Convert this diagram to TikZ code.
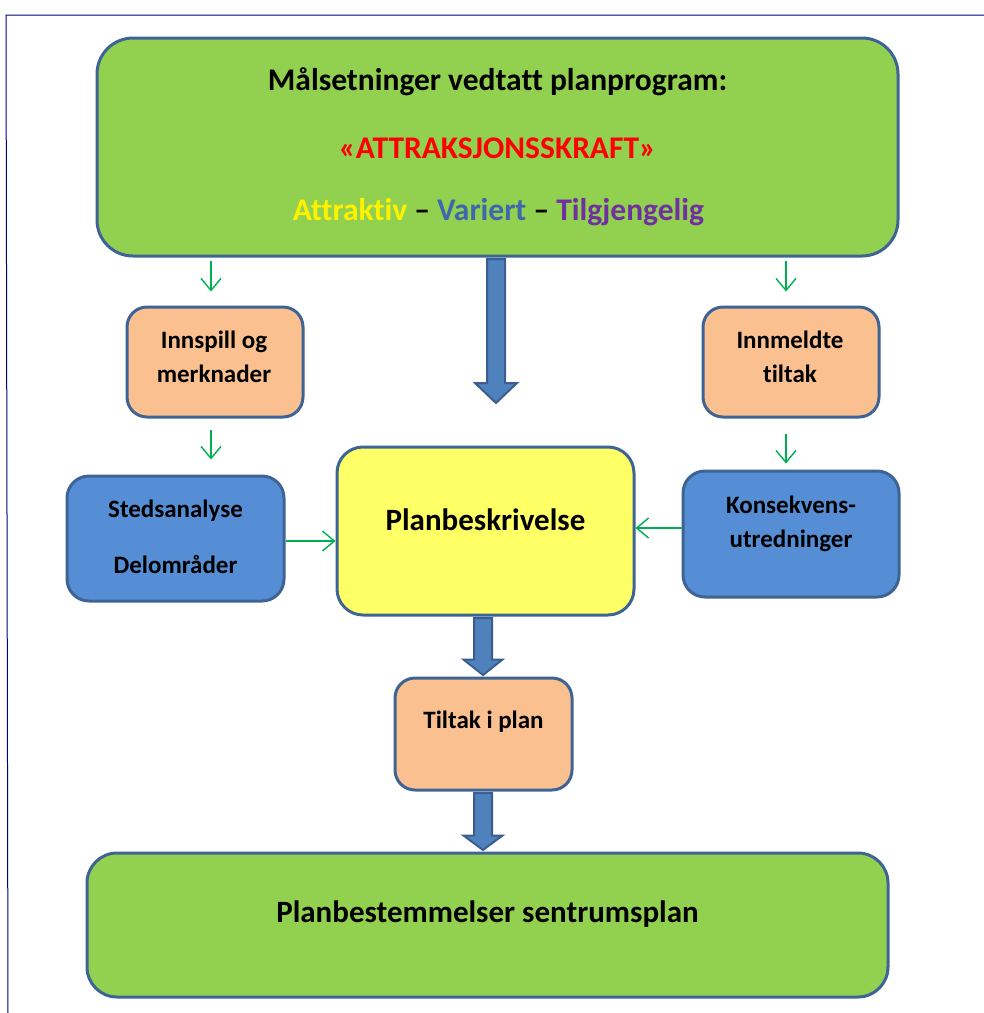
\documentclass[tikz,border=0pt]{standalone}
\usepackage{fontspec}
\setmainfont{Carlito}[RawFeature={-liga;-clig;-calt;-dlig}]
\usetikzlibrary{arrows.meta,calc}
\definecolor{edgeblue}{HTML}{3E6496}
\definecolor{lgreen}{HTML}{92D050}
\definecolor{peach}{HTML}{FAC090}
\definecolor{mblue}{HTML}{558ED5}
\definecolor{lyellow}{HTML}{FFFF66}
\definecolor{agreen}{HTML}{00B050}
\definecolor{arrfill}{HTML}{4F81BD}
\definecolor{arredge}{HTML}{3A5F8E}
\definecolor{frameblue}{HTML}{000080}
\definecolor{variert}{HTML}{3F67AD}
\definecolor{tilg}{HTML}{7030A0}
\tikzset{
  box/.style={draw=edgeblue, line width=3pt, inner sep=0pt},
  txt/.style={font=\bfseries, text=black, align=center, inner sep=0pt},
  big/.style={font=\bfseries\fontsize{31.5}{36}\selectfont},
  small/.style={font=\bfseries\fontsize{25}{34}\selectfont},
  garrow/.style={draw=agreen, line width=1.4pt, -{Straight Barb[length=12pt,width=20pt,line width=1.4pt]}},
  barrow/.style={fill=arrfill, draw=arredge, line width=2pt, line join=miter},
}
\begin{document}
\begin{tikzpicture}[x=1pt,y=-1pt]
\useasboundingbox (0,0) rectangle (984,1013);
% frame
\draw[frameblue, line width=1pt] (984,15) -- (6,15) -- (8,1013);
% boxes
\node[box, fill=lgreen, rounded corners=36pt, minimum width=801pt, minimum height=218pt] (top) at (497.5,147) {};
\node[txt, big] (t1) at (497.5,82) {Målsetninger vedtatt planprogram:};
\node[txt, big, text=red] (t2) at (497.5,148) {«ATTRAKSJONSSKRAFT»};
\node[txt, big] (t3) at (498.5,212) {\textcolor{yellow}{Attraktiv} – \textcolor{variert}{Variert} – \textcolor{tilg}{Tilgjengelig}};

\node[box, fill=peach, rounded corners=20pt, minimum width=176pt, minimum height=110pt] (inn) at (215,362) {};
\node[txt, small] (inn-t) at (214,357) {Innspill og\\merknader};

\node[box, fill=peach, rounded corners=20pt, minimum width=176pt, minimum height=110pt] (inm) at (791,362) {};
\node[txt, small] (inm-t) at (790,357) {Innmeldte\\tiltak};

\node[box, fill=mblue, rounded corners=22pt, minimum width=217pt, minimum height=125pt] (sted) at (175.5,538.5) {};
\node[txt, font=\bfseries\fontsize{25}{56}\selectfont] (sted-t) at (175.5,537) {Stedsanalyse\\Delområder};

\node[box, fill=mblue, rounded corners=22pt, minimum width=216pt, minimum height=126pt] (kons) at (791,534) {};
\node[txt, small] (kons-t) at (791,524) {Konsekvens-\\utredninger};

\node[box, fill=lyellow, rounded corners=26pt, minimum width=297pt, minimum height=168pt] (plan) at (485.5,531) {};
\node[txt, font=\bfseries\fontsize{31}{36}\selectfont] (plan-t) at (485.5,520) {Planbeskrivelse};

\node[box, fill=peach, rounded corners=20pt, minimum width=177pt, minimum height=112pt] (tilt) at (483.5,734) {};
\node[txt, small] (tilt-t) at (483.5,722) {Tiltak i plan};

\node[box, fill=lgreen, rounded corners=30pt, minimum width=801pt, minimum height=144pt] (bot) at (487.5,925) {};
\node[txt, font=\bfseries\fontsize{31}{36}\selectfont] (bot-t) at (487.5,914) {Planbestemmelser sentrumsplan};

% green arrows
\coordinate (a1s) at ($(top.south -| 211,0)+(0,3)$);
\draw[garrow] (a1s) -- ($(inn.north -| 211,0)+(0,-14)$);
\draw[garrow] ($(inn.south -| 211,0)+(0,11)$) -- ($(sted.north -| 211,0)+(0,-15)$);
\coordinate (a2s) at ($(top.south -| 786,0)+(0,3)$);
\draw[garrow] (a2s) -- ($(inm.north -| 786,0)+(0,-14)$);
\draw[garrow] ($(inm.south -| 786,0)+(0,15)$) -- ($(kons.north -| 786,0)+(0,-6)$);
\draw[garrow] (sted.east |- 0,541) -- (plan.west |- 0,541);
\draw[garrow] (kons.west |- 0,528) -- (plan.east |- 0,528);

% block arrows
\coordinate (b1) at ($(top.south)+(-1.5,0)$);
\coordinate (b1tip) at (496,403);
\draw[barrow] ($(b1)+(-9,1.5)$) -- ($(b1tip)+(-9,-20)$) -- ($(b1tip)+(-21,-20)$) -- (b1tip)
  -- ($(b1tip)+(21,-20)$) -- ($(b1tip)+(9,-20)$) -- ($(b1)+(9,1.5)$) -- cycle;
\coordinate (b2) at (plan.south -| 483,0);
\coordinate (b2tip) at (tilt.north -| 483,0);
\draw[barrow] ($(b2)+(-9,1.5)$) -- ($(b2tip)+(-9,-17)$) -- ($(b2tip)+(-19.5,-17)$) -- ($(b2tip)+(0,-1.5)$)
  -- ($(b2tip)+(19.5,-17)$) -- ($(b2tip)+(9,-17)$) -- ($(b2)+(9,1.5)$) -- cycle;
\coordinate (b3) at (tilt.south -| 483,0);
\coordinate (b3tip) at (bot.north -| 483,0);
\draw[barrow] ($(b3)+(-9,1.5)$) -- ($(b3tip)+(-9,-16)$) -- ($(b3tip)+(-19.5,-16)$) -- ($(b3tip)+(0,-1.5)$)
  -- ($(b3tip)+(19.5,-16)$) -- ($(b3tip)+(9,-16)$) -- ($(b3)+(9,1.5)$) -- cycle;
\end{tikzpicture}
\end{document}
